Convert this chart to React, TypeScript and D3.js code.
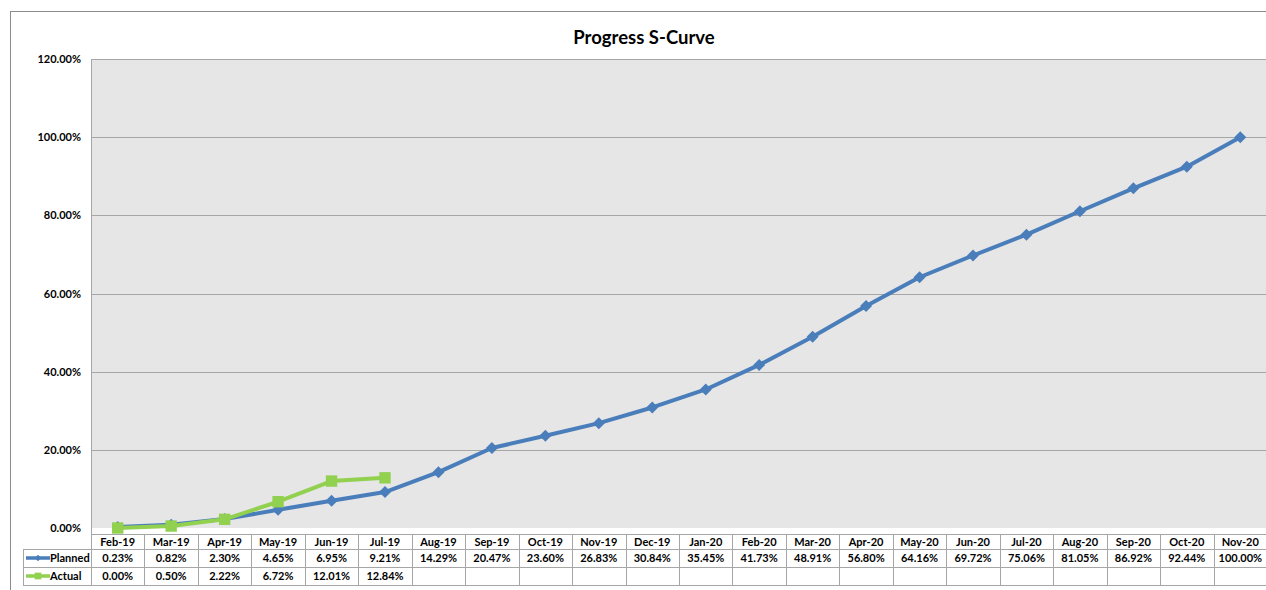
import React, { useEffect, useRef } from 'react'
import * as d3 from 'd3'

const months = ['Feb-19', 'Mar-19', 'Apr-19', 'May-19', 'Jun-19', 'Jul-19', 'Aug-19', 'Sep-19', 'Oct-19', 'Nov-19', 'Dec-19',
  'Jan-20', 'Feb-20', 'Mar-20', 'Apr-20', 'May-20', 'Jun-20', 'Jul-20', 'Aug-20', 'Sep-20', 'Oct-20', 'Nov-20']
const planned = [0.23, 0.82, 2.30, 4.65, 6.95, 9.21, 14.29, 20.47, 23.60, 26.83, 30.84,
  35.45, 41.73, 48.91, 56.80, 64.16, 69.72, 75.06, 81.05, 86.92, 92.44, 100.00]
const actual = [0.00, 0.50, 2.22, 6.72, 12.01, 12.84]
const yTicks = [0, 20, 40, 60, 80, 100, 120]

const W = 1266
const H = 590
const FONT = 'Lato, "Liberation Sans", sans-serif'
const BLUE = '#4a7ebb'
const GREEN = '#92d050'
const GRID = '#a6a6a6'

export default function App() {
  const ref = useRef<SVGSVGElement>(null)

  useEffect(() => {
    const svg = d3.select(ref.current)
    svg.selectAll('*').remove()

    const left = 91, right = 1267, top = 59, bottom = 528
    const x = d3.scaleBand<string>().domain(months).range([left, right])
    const bw = x.bandwidth()
    const cx = (i: number) => (x(months[i]) as number) + bw / 2
    const y = d3.scaleLinear().domain([0, 120]).range([bottom, top])

    // outer chart border
    svg.append('rect').attr('x', 10.5).attr('y', 11.5).attr('width', W).attr('height', H)
      .attr('fill', 'white').attr('stroke', '#8c8c8c')

    svg.append('text').attr('x', 644).attr('y', 44).attr('text-anchor', 'middle')
      .attr('font-family', FONT).attr('font-weight', 'bold').attr('font-size', 18.5)
      .text('Progress S-Curve')

    // plot area
    svg.append('rect').attr('x', left).attr('y', top).attr('width', right - left).attr('height', bottom - top)
      .attr('fill', '#e6e6e6')

    svg.append('g').selectAll('line').data(yTicks.filter(d => d > 0)).enter().append('line')
      .attr('x1', left).attr('x2', right)
      .attr('y1', d => Math.round(y(d)) + 0.5).attr('y2', d => Math.round(y(d)) + 0.5)
      .attr('stroke', GRID).attr('stroke-width', 1)

    svg.append('line').attr('x1', left + 0.5).attr('x2', left + 0.5).attr('y1', top).attr('y2', 585)
      .attr('stroke', GRID)

    svg.append('g').selectAll('text').data(yTicks).enter().append('text')
      .attr('x', 81).attr('y', d => y(d) + 4).attr('text-anchor', 'end')
      .attr('font-family', FONT).attr('font-weight', 'bold').attr('font-size', 11)
      .text(d => d.toFixed(2) + '%')

    // data table
    const tTop = 534.5, r1 = 549.5, r2 = 567.5, r3 = 585.5
    const tbl = svg.append('g').attr('stroke', GRID).attr('stroke-width', 1)
    tbl.append('line').attr('x1', left).attr('x2', right).attr('y1', tTop).attr('y2', tTop)
    ;[r1, r2, r3].forEach(yy => {
      tbl.append('line').attr('x1', 23).attr('x2', right).attr('y1', yy).attr('y2', yy)
    })
    tbl.append('line').attr('x1', 23.5).attr('x2', 23.5).attr('y1', r1).attr('y2', r3)
    months.forEach((m, i) => {
      if (i === 0) return
      const xx = Math.round(x(m) as number) + 0.5
      tbl.append('line').attr('x1', xx).attr('x2', xx).attr('y1', tTop).attr('y2', r3)
    })

    const cellText = (vals: string[], yy: number) => {
      svg.append('g').selectAll('text').data(vals).enter().append('text')
        .attr('x', (d, i) => cx(i)).attr('y', yy).attr('text-anchor', 'middle')
        .attr('font-family', FONT).attr('font-weight', 'bold').attr('font-size', 11)
        .text(d => d)
    }
    cellText(months, 546)
    cellText(planned.map(v => v.toFixed(2) + '%'), 562)
    cellText(actual.map(v => v.toFixed(2) + '%'), 580)

    // markers: diamond = rotated square
    const diamond = d3.symbol().type(d3.symbolSquare).size(72)
    const square = d3.symbol().type(d3.symbolSquare).size(130)
    const legend = (label: string, color: string, sym: string, rot: number, yy: number) => {
      svg.append('line').attr('x1', 26).attr('x2', 50).attr('y1', yy).attr('y2', yy)
        .attr('stroke', color).attr('stroke-width', 3.5)
      svg.append('path').attr('d', sym).attr('transform', `translate(38,${yy}) rotate(${rot})`).attr('fill', color)
      svg.append('text').attr('x', 50).attr('y', yy + 4)
        .attr('font-family', FONT).attr('font-weight', 'bold').attr('font-size', 11).text(label)
    }
    legend('Planned', BLUE, d3.symbol().type(d3.symbolSquare).size(22)() as string, 45, 558)
    legend('Actual', GREEN, d3.symbol().type(d3.symbolSquare).size(45)() as string, 0, 576)

    const line = d3.line<number>().x((d, i) => cx(i)).y(d => y(d))

    svg.append('path').datum(planned).attr('d', line).attr('fill', 'none')
      .attr('stroke', BLUE).attr('stroke-width', 4).attr('stroke-linejoin', 'round')
    svg.append('g').selectAll('path').data(planned).enter().append('path')
      .attr('d', diamond()).attr('transform', (d, i) => `translate(${cx(i)},${y(d)}) rotate(45)`)
      .attr('fill', BLUE)

    svg.append('path').datum(actual).attr('d', line).attr('fill', 'none')
      .attr('stroke', GREEN).attr('stroke-width', 4).attr('stroke-linejoin', 'round')
    svg.append('g').selectAll('path').data(actual).enter().append('path')
      .attr('d', square()).attr('transform', (d, i) => `translate(${cx(i)},${y(d)})`)
      .attr('fill', GREEN)
  }, [])

  return (
    <svg ref={ref} width={W} height={H} style={{ position: 'absolute', left: 0, top: 0, background: 'white' }} />
  )
}
